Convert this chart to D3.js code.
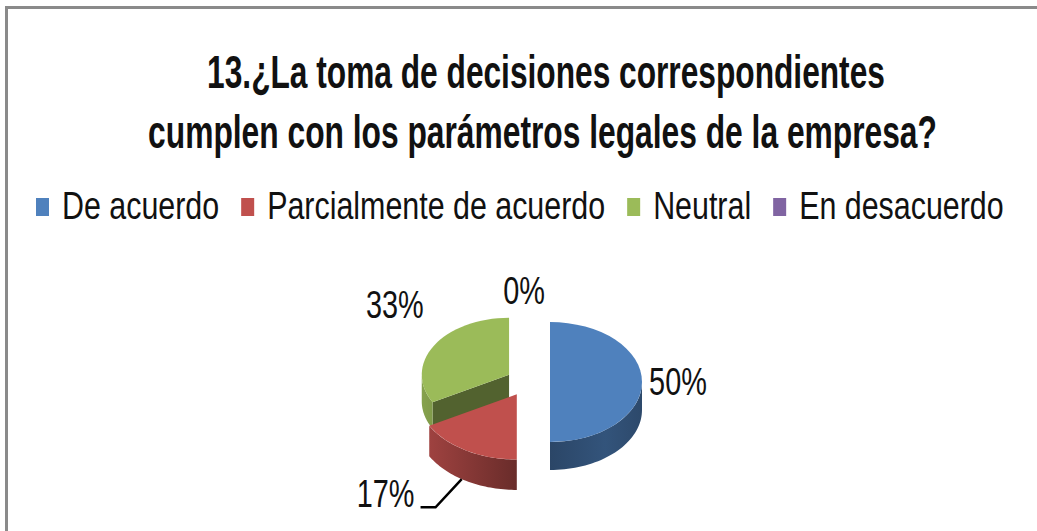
<!DOCTYPE html>
<meta charset="utf-8">
<style>
  body { margin: 0; background: #fff; }
  svg { display: block; }
  text { font-family: "Liberation Sans", Arial, sans-serif; fill: #111; }
</style>
<svg width="1037" height="531"></svg>
<script src="https://d3js.org/d3.v7.min.js"></script>
<script>

// data
var categories = ["De acuerdo", "Parcialmente de acuerdo", "Neutral", "En desacuerdo"];
var values = [50, 17, 33, 0];
var pctLabels = ["50%", "17%", "33%", "0%"];
var titleLines = ["13.¿La toma de decisiones correspondientes",
                  "cumplen con los parámetros legales de la empresa?"];
var colors = ["#4f81bd", "#c0504d", "#9bbb59", "#8064a2"];

var svg = d3.select("svg");
var defs = svg.append("defs");

// squeeze a text horizontally around its anchor (the source font is a narrow one)
function condense(sel, x, y, sx) {
  sel.attr("x", 0).attr("y", 0)
     .attr("transform", "translate(" + x + "," + y + ") scale(" + sx + ",1)");
}

// chart frame (only top and left edge are inside the picture)
svg.append("rect")
    .attr("x", 6.5).attr("y", 7.5)
    .attr("width", 1200).attr("height", 700)
    .attr("fill", "none")
    .attr("stroke", "#8a8a8a")
    .attr("stroke-width", 3);

// title
var titleBox = [[546, 88, 678], [542.5, 148, 789]];
titleLines.forEach(function(line, i) {
  var t = svg.append("text")
      .attr("text-anchor", "middle")
      .attr("font-size", 46)
      .attr("font-weight", "bold")
      .text(line);
  var w = t.node().getComputedTextLength();
  condense(t, titleBox[i][0], titleBox[i][1], titleBox[i][2] / w);
});

// legend, laid out left to right
var legend = svg.append("g");
var lx = 36, squeeze = 0.8;
categories.forEach(function(c, i) {
  legend.append("rect")
      .attr("x", lx).attr("y", 198)
      .attr("width", 13).attr("height", 18)
      .attr("fill", colors[i]);
  var t = legend.append("text")
      .attr("font-size", 38)
      .text(c);
  var w = t.node().getComputedTextLength() * squeeze;
  condense(t, lx + 26, 219, squeeze);
  lx += 26 + w + 22;
});

// 3D exploded pie
var cx = 528, cy = 382, rx = 92, ry = 60, depth = 28, explode = 22;
var k = ry / rx;

var data = categories.map(function(c, i) {
  return {name: c, value: values[i], label: pctLabels[i], color: colors[i]};
});
var arcs = d3.pie().sort(null).value(function(d) { return d.value; })(data);

arcs.forEach(function(a) {
  var mid = (a.startAngle + a.endAngle) / 2;
  a.mid = mid;
  a.s = 1 - 0.1 * Math.cos(mid);          // slices nearer the viewer look a bit larger
  a.ox = cx + explode * Math.sin(mid);
  a.oy = cy - explode * k * Math.cos(mid);
});

function pt(a, ang) {
  var r = rx * a.s;
  return [a.ox + r * Math.sin(ang), a.oy - r * k * Math.cos(ang)];
}

var arcGen = d3.arc().innerRadius(0).outerRadius(function(a) { return rx * a.s; });
var pie = svg.append("g");

arcs.filter(function(a) { return a.value > 0; })
  .sort(function(a, b) { return a.oy - b.oy; })
  .forEach(function(a, i) {
    var base = d3.color(a.data.color);
    var g = pie.append("g");
    var dp = depth * a.s;

    // radial cut faces that turn to the viewer
    [[a.startAngle, Math.sin(a.startAngle) < -0.01], [a.endAngle, Math.sin(a.endAngle) > 0.01]]
      .forEach(function(f) {
        if (!f[1]) return;
        var e = pt(a, f[0]);
        var pts = [[a.ox, a.oy], e, [e[0], e[1] + dp], [a.ox, a.oy + dp]];
        g.append("path")
            .attr("d", "M" + pts.join("L") + "Z")
            .attr("fill", base.darker(1.8).formatHex());
      });

    // outer wall, front half only
    var w0 = Math.max(a.startAngle, Math.PI / 2), w1 = Math.min(a.endAngle, 3 * Math.PI / 2);
    if (w1 > w0) {
      var id = "wall" + i;
      var gr = defs.append("linearGradient").attr("id", id)
          .attr("gradientUnits", "userSpaceOnUse")
          .attr("x1", a.ox - rx * a.s).attr("x2", a.ox + rx * a.s).attr("y1", 0).attr("y2", 0);
      [[0, 0.4], [0.5, 1.7], [0.8, 1.2], [1, 1.6]].forEach(function(s) {
        gr.append("stop").attr("offset", s[0]).attr("stop-color", base.darker(s[1]).formatHex());
      });
      var top = d3.range(0, 41).map(function(j) { return pt(a, w0 + (w1 - w0) * j / 40); });
      var bot = top.map(function(p) { return [p[0], p[1] + dp]; }).reverse();
      g.append("path")
          .attr("d", "M" + top.concat(bot).join("L") + "Z")
          .attr("fill", "url(#" + id + ")");
    }

    // top face
    g.append("path")
        .attr("transform", "translate(" + a.ox + "," + a.oy + ") scale(1," + k + ")")
        .attr("d", arcGen(a))
        .attr("fill", a.data.color);
  });

// data labels
var lrx = 150, lry = 91;
var nudge = {"Parcialmente de acuerdo": [-66, 33], "Neutral": [-4, -31], "En desacuerdo": [-4, 0]};
arcs.forEach(function(a) {
  var n = nudge[a.data.name] || [0, 0];
  var x = cx + lrx * Math.sin(a.mid) + n[0];
  var y = cy - lry * Math.cos(a.mid) + n[1];
  var t = svg.append("text")
      .attr("dy", "0.35em")
      .attr("text-anchor", "middle")
      .attr("font-size", 38)
      .text(a.data.label);
  var w = t.node().getComputedTextLength() * 0.76;
  condense(t, x, y, 0.76);

  // leader line for the label that was pulled away
  if (a.data.name === "Parcialmente de acuerdo") {
    var e = pt(a, a.mid + 0.05);
    var sx = x + w / 2 + 6, sy = y + 14;
    svg.append("path")
        .attr("d", "M" + [[sx, sy], [sx + 15, sy], [e[0], e[1] + depth * a.s]].join("L"))
        .attr("fill", "none")
        .attr("stroke", "#000")
        .attr("stroke-width", 2.5);
  }
});

</script>
